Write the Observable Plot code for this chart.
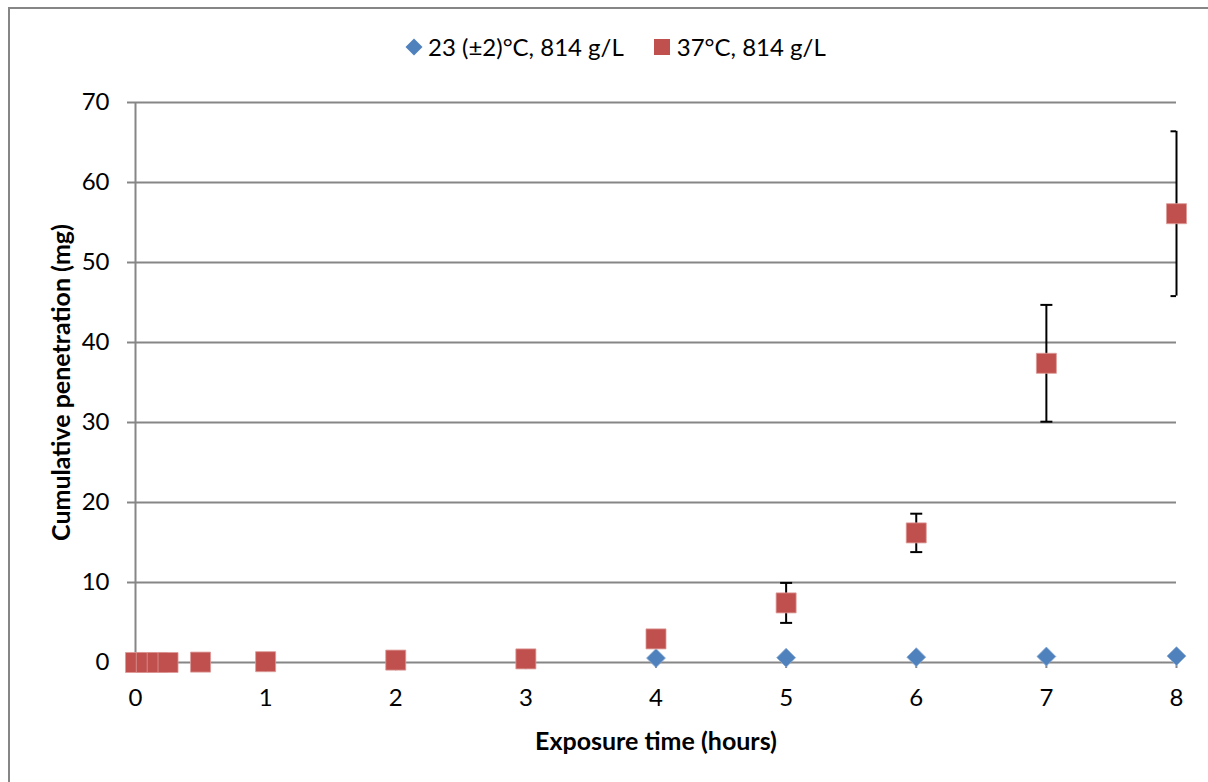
<!DOCTYPE html>
<html>
<head>
<meta charset="utf-8">
<script src="https://cdn.jsdelivr.net/npm/d3@7"></script>
<script src="https://cdn.jsdelivr.net/npm/@observablehq/plot@0.6"></script>
<style>
  html, body { margin: 0; padding: 0; background: #fff; }
  #wrap { position: relative; width: 1208px; height: 782px; overflow: hidden; font-family: Lato, "Open Sans", sans-serif; }
  #frame { position: absolute; left: 8px; top: 7px; width: 1220px; height: 800px; border: 2px solid #868686; box-sizing: border-box; }
  #legend { position: relative; height: 80px; display: flex; align-items: center; padding-left: 405px; padding-top: 13px; box-sizing: border-box; font-size: 24px; color: #000; }
  .item { display: flex; align-items: center; margin-right: 30px; }
  .diamond { width: 12px; height: 12px; background: #4F81BD; transform: rotate(45deg); margin: 0 8px 0 3px; }
  .square { width: 16px; height: 16px; background: #C0504D; margin-right: 7px; }
  svg { display: block; position: relative; }
</style>
</head>
<body>
<div id="wrap">
  <div id="frame"></div>
  <div id="legend"></div>
  <div id="chart"></div>
</div>
<script>
// Exposure times in hours (first points at 5, 10 and 15 minutes)
const times = [0, 0.083, 0.167, 0.25, 0.5, 1, 2, 3, 4, 5, 6, 7, 8];
// Cumulative penetration (mg) at 23 (±2)°C
const penetration23 = [0, 0, 0, 0, 0.02, 0.05, 0.2, 0.35, 0.55, 0.6, 0.67, 0.75, 0.8];
// Cumulative penetration (mg) at 37°C and its standard deviation
const penetration37 = [0, 0, 0, 0, 0.05, 0.1, 0.3, 0.45, 2.95, 7.45, 16.2, 37.4, 56.1];
const sd37 = [0, 0, 0, 0, 0, 0, 0, 0, 0, 2.5, 2.4, 7.3, 10.3];

const seriesNames = ["23 (±2)°C, 814 g/L", "37°C, 814 g/L"];
const seriesColors = ["#4F81BD", "#C0504D"];
const xTicks = [0, 1, 2, 3, 4, 5, 6, 7, 8];
const yTicks = [0, 10, 20, 30, 40, 50, 60, 70];
const xTitle = "Exposure time (hours)";
const yTitle = "Cumulative penetration (mg)";

const rows23 = times.map((t, i) => ({t, v: penetration23[i]}));
const rows37 = times.map((t, i) => ({t, v: penetration37[i], e: sd37[i]}));
const errRows = rows37.filter(d => d.e > 0);

// Legend
const legend = document.getElementById("legend");
seriesNames.forEach((name, i) => {
  const item = document.createElement("div");
  item.className = "item";
  const sym = document.createElement("div");
  sym.className = i === 0 ? "diamond" : "square";
  const label = document.createElement("span");
  label.textContent = name;
  item.appendChild(sym);
  item.appendChild(label);
  legend.appendChild(item);
});

// Horizontal end cap for the error bars
const capSymbol = {
  draw(context) {
    context.moveTo(-6, 0);
    context.lineTo(6, 0);
  }
};

const gridColor = "#868686";
const font = "Lato, 'Open Sans', sans-serif";

const chart = Plot.plot({
  width: 1208,
  height: 702,
  marginLeft: 135,
  marginRight: 32,
  marginTop: 22,
  marginBottom: 120,
  x: {domain: [0, 8]},
  y: {domain: [0, 70]},
  style: {fontFamily: font, fontSize: "24px", color: "#000", background: "transparent", overflow: "visible"},
  marks: [
    Plot.ruleY(yTicks, {stroke: gridColor, strokeWidth: 2}),
    Plot.ruleX([0], {stroke: gridColor, strokeWidth: 2}),
    Plot.axisY({ticks: yTicks, tickSize: 8, tickPadding: 18, stroke: gridColor, strokeWidth: 2, strokeOpacity: 1, label: null, fill: "#000", fontSize: 24}),
    Plot.axisX({ticks: xTicks, tickSize: 6, tickPadding: 20, stroke: gridColor, strokeWidth: 2, strokeOpacity: 1, label: null, fill: "#000", fontSize: 24}),
    Plot.text([xTitle], {text: d => d, frameAnchor: "bottom", textAnchor: "middle", lineAnchor: "middle", dy: 79, fontWeight: "bold", fontSize: 25, fill: "#000"}),
    Plot.text([yTitle], {text: d => d, frameAnchor: "left", textAnchor: "middle", lineAnchor: "middle", dx: -74, rotate: -90, fontWeight: "bold", fontSize: 25, fill: "#000"}),
    Plot.ruleX(errRows, {x: "t", y1: d => d.v - d.e, y2: d => d.v + d.e, stroke: "#000", strokeWidth: 2}),
    Plot.dot(errRows, {x: "t", y: d => d.v - d.e, symbol: capSymbol, stroke: "#000", strokeWidth: 2, clip: "frame"}),
    Plot.dot(errRows, {x: "t", y: d => d.v + d.e, symbol: capSymbol, stroke: "#000", strokeWidth: 2, clip: "frame"}),
    Plot.dot(rows23, {x: "t", y: "v", symbol: "diamond2", r: 8.5, fill: seriesColors[0], stroke: "#86a8d3", strokeWidth: 0.8}),
    Plot.dot(rows37, {x: "t", y: "v", symbol: "square", r: 11.3, fill: seriesColors[1], stroke: "#dd9a98", strokeWidth: 0.8})
  ]
});
document.getElementById("chart").appendChild(chart);
</script>
</body>
</html>
